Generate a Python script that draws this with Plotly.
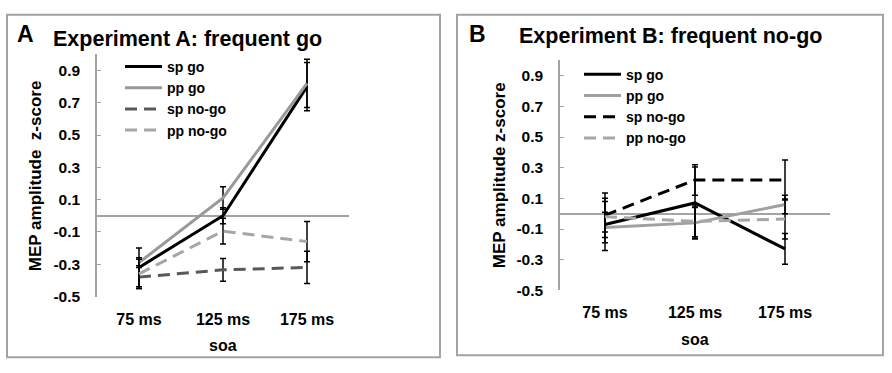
import plotly.graph_objects as go

W, H = 892, 373

soa = ["75 ms", "125 ms", "175 ms"]
yticks = [-0.5, -0.3, -0.1, 0.1, 0.3, 0.5, 0.7, 0.9]
series_names = ["sp go", "pp go", "sp no-go", "pp no-go"]

# Experiment A: frequent go
a_sp_go = [-0.32, 0.00, 0.80]
a_pp_go = [-0.29, 0.11, 0.82]
a_sp_nogo = [-0.38, -0.335, -0.32]
a_pp_nogo = [-0.36, -0.095, -0.16]
a_sp_go_err = [0.12, 0.05, 0.15]
a_pp_go_err = [0.03, 0.07, 0.15]
a_sp_nogo_err = [0.07, 0.07, 0.10]
a_pp_nogo_err = [0.09, 0.08, 0.125]

# Experiment B: frequent no-go
b_sp_go = [-0.07, 0.07, -0.23]
b_pp_go = [-0.09, -0.06, 0.06]
b_sp_nogo = [-0.01, 0.22, 0.22]
b_pp_nogo = [-0.02, -0.05, -0.035]
b_sp_go_err = [0.17, 0.235, 0.10]
b_pp_go_err = [0.10, 0.10, 0.06]
b_sp_nogo_err = [0.145, 0.10, 0.13]
b_pp_nogo_err = [0.10, 0.10, 0.13]

FONT = "Liberation Sans, Arial, sans-serif"
AXIS_GREY = "#a3a3a3"
DASH = "12px,7px"

styles_a = [
    dict(color="#000000", dash="solid"),
    dict(color="#999999", dash="solid"),
    dict(color="#595959", dash=DASH),
    dict(color="#a6a6a6", dash=DASH),
]
styles_b = [
    dict(color="#000000", dash="solid"),
    dict(color="#a0a0a0", dash="solid"),
    dict(color="#000000", dash=DASH),
    dict(color="#a6a6a6", dash=DASH),
]

fig = go.Figure()

def add_panel(vals, errs, styles, xa, ya, legend):
    for name, v, e, st in zip(series_names, vals, errs, styles):
        fig.add_trace(go.Scatter(
            x=soa, y=v, name=name, mode="lines",
            line=dict(color=st["color"], width=3, dash=st["dash"]),
            error_y=dict(type="data", array=e, visible=True, color="#000000",
                         thickness=1.5, width=3),
            xaxis=xa, yaxis=ya, legend=legend,
        ))

add_panel([a_sp_go, a_pp_go, a_sp_nogo, a_pp_nogo],
          [a_sp_go_err, a_pp_go_err, a_sp_nogo_err, a_pp_nogo_err],
          styles_a, "x", "y", "legend")
add_panel([b_sp_go, b_pp_go, b_sp_nogo, b_pp_nogo],
          [b_sp_go_err, b_pp_go_err, b_sp_nogo_err, b_pp_nogo_err],
          styles_b, "x2", "y2", "legend2")

def px_x(v):
    return v / W

def px_y(v):
    return 1 - v / H

xaxis_common = dict(
    type="category", range=[-0.5, 2.5], showgrid=False, zeroline=False,
    showline=False, ticks="", ticklabelstandoff=11,
    tickfont=dict(size=16, family=FONT, color="#000000", weight="bold"),
    fixedrange=True,
)
yaxis_common = dict(
    range=[-0.5, 1.0], tickvals=yticks, ticktext=[f"{t:.1f}" for t in yticks],
    showgrid=False, showline=True, linecolor=AXIS_GREY, linewidth=1.5,
    ticks="inside", ticklen=4, tickcolor=AXIS_GREY, tickwidth=1,
    zeroline=True, zerolinecolor=AXIS_GREY, zerolinewidth=1.5,
    ticklabelstandoff=12,
    tickfont=dict(size=15.5, family=FONT, color="#000000", weight="bold"),
    fixedrange=True,
)

legend_font = dict(size=14, family=FONT, color="#000000", weight="bold")

fig.update_layout(
    width=W, height=H,
    margin=dict(l=0, r=0, t=0, b=0),
    paper_bgcolor="white", plot_bgcolor="white",
    font=dict(family=FONT, color="#000000"),
    xaxis=dict(domain=[px_x(97), px_x(349)], anchor="y", **xaxis_common),
    yaxis=dict(domain=[px_y(303), px_y(55.5)], anchor="x", **yaxis_common),
    xaxis2=dict(domain=[px_x(560), px_x(830)], anchor="y2", **xaxis_common),
    yaxis2=dict(domain=[px_y(296.7), px_y(61.7)], anchor="x2", **yaxis_common),
    legend=dict(x=px_x(120), y=px_y(52), xanchor="left", yanchor="top",
                bgcolor="rgba(0,0,0,0)", tracegroupgap=0, itemwidth=37,
                font=legend_font),
    legend2=dict(x=px_x(579), y=px_y(60), xanchor="left", yanchor="top",
                 bgcolor="rgba(0,0,0,0)", tracegroupgap=0, itemwidth=37,
                 font=legend_font),
    showlegend=True,
)

# panel frames
for x0, x1, y0, y1 in [(7, 440, 15, 365), (457, 883, 15, 363)]:
    fig.add_shape(type="rect", xref="paper", yref="paper",
                  x0=px_x(x0), x1=px_x(x1), y0=px_y(y1), y1=px_y(y0),
                  line=dict(color=AXIS_GREY, width=2), fillcolor="rgba(0,0,0,0)",
                  layer="below")

def ann(text, x, y, size, xanchor="center", textangle=0):
    fig.add_annotation(text=text, x=px_x(x), y=px_y(y), xref="paper", yref="paper",
                       xanchor=xanchor, yanchor="middle", showarrow=False,
                       textangle=textangle,
                       font=dict(size=size, family=FONT, color="#000000", weight="bold"))

ann("A", 25, 35, 23)
ann("Experiment A: frequent go", 51, 40, 21.5, xanchor="left")
ann("B", 477, 35, 23)
ann("Experiment B: frequent no-go", 517, 37, 21.5, xanchor="left")
ann("MEP amplitude\u00a0 z-score", 35, 180, 17, textangle=-90)
ann("MEP amplitude z-score", 499, 179, 17, textangle=-90)
ann("soa", 223, 353, 16)
ann("soa", 695, 347, 16)

fig.write_html("out.html", config={"displayModeBar": False})

# remove default page margin so the figure sits at the window origin
with open("out.html", "r", encoding="utf-8") as f:
    html = f.read()
html = html.replace("<body>", '<body style="margin:0;padding:0;overflow:hidden">', 1)
with open("out.html", "w", encoding="utf-8") as f:
    f.write(html)
